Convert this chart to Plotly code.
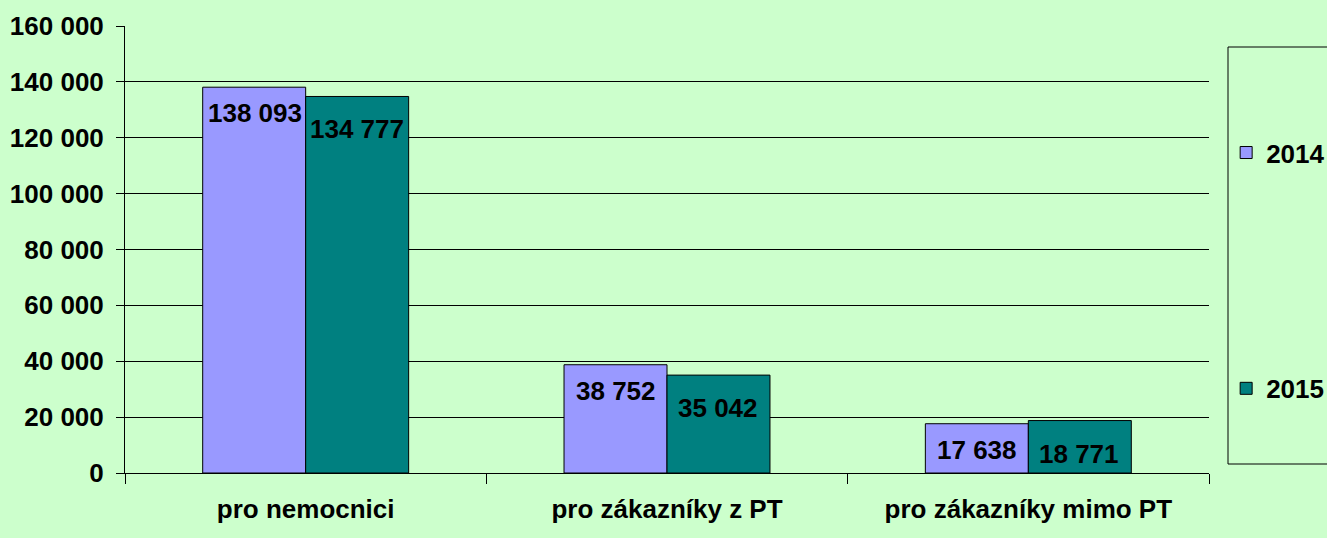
import plotly.graph_objects as go

categories = ["pro nemocnici", "pro zákazníky z PT", "pro zákazníky mimo PT"]
series_names = ["2014", "2015"]
values_2014 = [138093, 38752, 17638]
values_2015 = [134777, 35042, 18771]
y_ticks = [0, 20000, 40000, 60000, 80000, 100000, 120000, 140000, 160000]

colors = ["#9999FF", "#008080"]
FONT = "Liberation Sans, Arial, sans-serif"
BG = "#CCFFCC"


def fmt(v):
    return f"{v:,}".replace(",", " ")


fig = go.Figure()
for name, vals, col in zip(series_names, [values_2014, values_2015], colors):
    fig.add_trace(go.Bar(
        x=categories, y=vals, name=name, legendgroup=name,
        marker=dict(color=col, line=dict(color="black", width=1)),
    ))

# value labels inside bars, near the top
annotations = []
for i, (vals, side) in enumerate(zip([values_2014, values_2015], [-1, 1])):
    for cat, v in zip(categories, vals):
        annotations.append(dict(
            x=cat, y=v, xref="x", yref="y", text=fmt(v), showarrow=False,
            xshift=side * 51, yshift=-26 if i == 0 else -33,
            font=dict(family=FONT, size=26, color="black", weight="bold"),
        ))

fig.update_layout(
    width=1327, height=538,
    paper_bgcolor=BG, plot_bgcolor=BG,
    margin=dict(l=125, r=118, t=26, b=65),
    barmode="group", bargap=0.43, bargroupgap=0,
    separators=", ",
    font=dict(family=FONT, size=26, color="black", weight="bold"),
    showlegend=True,
    legend=dict(
        xref="container", yref="container",
        x=0.924, xanchor="left", y=0.76, yanchor="top",
        tracegroupgap=199, bgcolor="rgba(0,0,0,0)", borderwidth=0,
        font=dict(family=FONT, size=26, color="black", weight="bold"),
    ),
    xaxis=dict(
        showline=True, linecolor="black", linewidth=1,
        ticks="outside", tickson="boundaries", ticklen=10, tickcolor="black",
        ticklabelstandoff=13, showgrid=False, automargin=False,
        tickfont=dict(family=FONT, size=26, color="black", weight="bold"),
    ),
    yaxis=dict(
        range=[0, 160000], tickvals=y_ticks, tickformat=",d",
        showline=True, linecolor="black", linewidth=1,
        ticks="outside", ticklen=8, tickcolor="black",
        showgrid=True, gridcolor="black", gridwidth=1,
        zeroline=False, ticklabelstandoff=7, automargin=False,
        tickfont=dict(family=FONT, size=26, color="black", weight="bold"),
    ),
    annotations=annotations,
    shapes=[dict(
        type="rect", xref="paper", yref="paper",
        x0=(1228 - 125) / 1084, x1=1.3, y0=(473 - 464) / 447, y1=(473 - 47) / 447,
        line=dict(color="black", width=1), fillcolor="rgba(0,0,0,0)", layer="above",
    )],
)

fig.write_html("out.html", config={"displayModeBar": False},
               post_script="document.body.style.margin='0';")
